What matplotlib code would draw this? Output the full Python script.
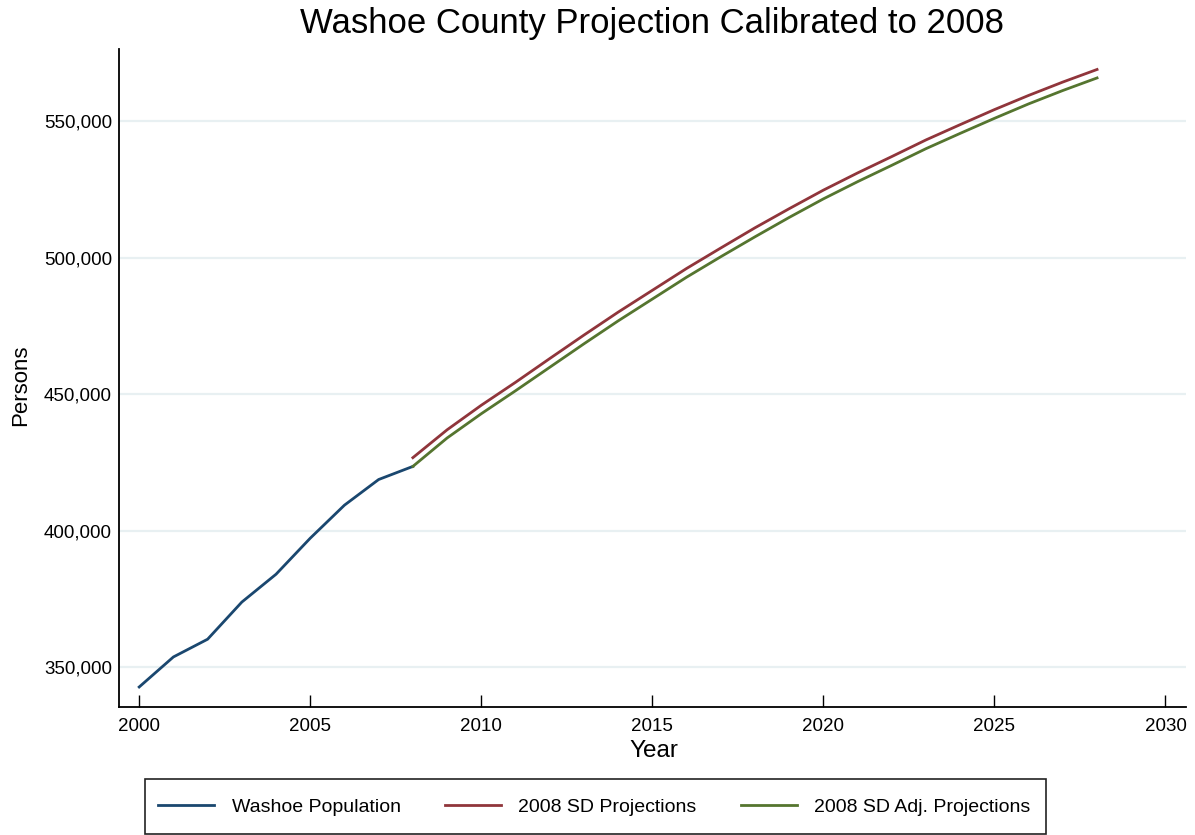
import matplotlib
matplotlib.use("Agg")
import matplotlib.pyplot as plt
from matplotlib.ticker import FuncFormatter
from matplotlib.patches import Rectangle
from matplotlib import font_manager

plt.rcParams['font.family'] = ['Liberation Sans', 'DejaVu Sans']

# ---- data ----
hist_years = [2000, 2001, 2002, 2003, 2004, 2005, 2006, 2007, 2008]
washoe_pop = [342700, 353700, 360200, 373800, 384000, 397200, 409300, 418700, 423500]

proj_years = [2008, 2009, 2010, 2011, 2012, 2013, 2014, 2015, 2016, 2017, 2018,
              2019, 2020, 2021, 2022, 2023, 2024, 2025, 2026, 2027, 2028]
sd_proj = [426700, 436900, 445900, 454300, 463000, 471600, 480000, 488000, 496000,
           503500, 510900, 517900, 524700, 531000, 537000, 543100, 548700, 554200,
           559400, 564300, 568900]
sd_adj_proj = [423500, 433900, 442800, 451200, 459800, 468400, 476800, 484800, 492800,
               500300, 507600, 514700, 521500, 527800, 533800, 539900, 545500, 551000,
               556300, 561200, 565800]

x_ticks = [2000, 2005, 2010, 2015, 2020, 2025, 2030]
y_ticks = [350000, 400000, 450000, 500000, 550000]
series_labels = ["Washoe Population", "2008 SD Projections", "2008 SD Adj. Projections"]
colors = ["#1a476f", "#90353b", "#55752f"]

# narrow font for axis titles if available
names = {f.name for f in font_manager.fontManager.ttflist}
if 'Liberation Sans Narrow' in names:
    title_font = ['Liberation Sans Narrow', 'DejaVu Sans']
    ylab_size, xlab_size = 19.5, 21
else:
    title_font = ['Liberation Sans', 'DejaVu Sans']
    ylab_size, xlab_size = 16, 17.5

# ---- figure ----
W, H = 1195, 835
fig = plt.figure(figsize=(W / 100, H / 100), dpi=100)
ax = fig.add_axes([119 / W, 1 - 707 / H, (1186 - 119) / W, (707 - 49) / H])

l1, = ax.plot(hist_years, washoe_pop, color=colors[0], lw=2.0)
l2, = ax.plot(proj_years, sd_proj, color=colors[1], lw=2.0)
l3, = ax.plot(proj_years, sd_adj_proj, color=colors[2], lw=2.0)

ax.set_xlim(1999.41, 2030.6)
ax.set_ylim(335370, 576400)
ax.set_xticks(x_ticks)
ax.set_yticks(y_ticks)
ax.yaxis.set_major_formatter(FuncFormatter(lambda v, p: f"{int(v):,}"))

ax.grid(axis='y', color='#e8f0f2', lw=1.6)
ax.set_axisbelow(True)
for s in ['top', 'right']:
    ax.spines[s].set_visible(False)
for s in ['left', 'bottom']:
    ax.spines[s].set_linewidth(1.3)
    ax.spines[s].set_color('black')

ax.tick_params(axis='x', direction='in', length=8.6, width=1.0, labelsize=13.5, pad=7.9)
ax.tick_params(axis='y', length=0, labelsize=13.5, pad=5)

# axis titles
fig.text(654 / W, 1 - 757 / H, "Year", fontsize=xlab_size, family=title_font,
         ha='center', va='baseline')
fig.text(21 / W, 1 - 385 / H, "Persons", fontsize=ylab_size, family=title_font,
         ha='center', va='center', rotation=90)

# main title
fig.text(652.5 / W, 1 - 33 / H, "Washoe County Projection Calibrated to 2008",
         fontsize=25, ha='center', va='baseline')

# legend
fig.patches.append(Rectangle((145 / W, 1 - 834 / H), (1046 - 145) / W, (834 - 779) / H,
                             transform=fig.transFigure, fill=True, facecolor='white',
                             edgecolor='#222222', lw=1.2, zorder=1))
leg = fig.legend([l1, l2, l3], series_labels, ncol=3, loc='center left',
                 bbox_to_anchor=(158 / W, 1 - 807 / H), fontsize=14, frameon=False,
                 handlelength=2.9, handletextpad=0.88, columnspacing=2.27,
                 borderaxespad=0, borderpad=0)
leg.set_zorder(2)

fig.savefig("out.png", dpi=100, facecolor='white')
